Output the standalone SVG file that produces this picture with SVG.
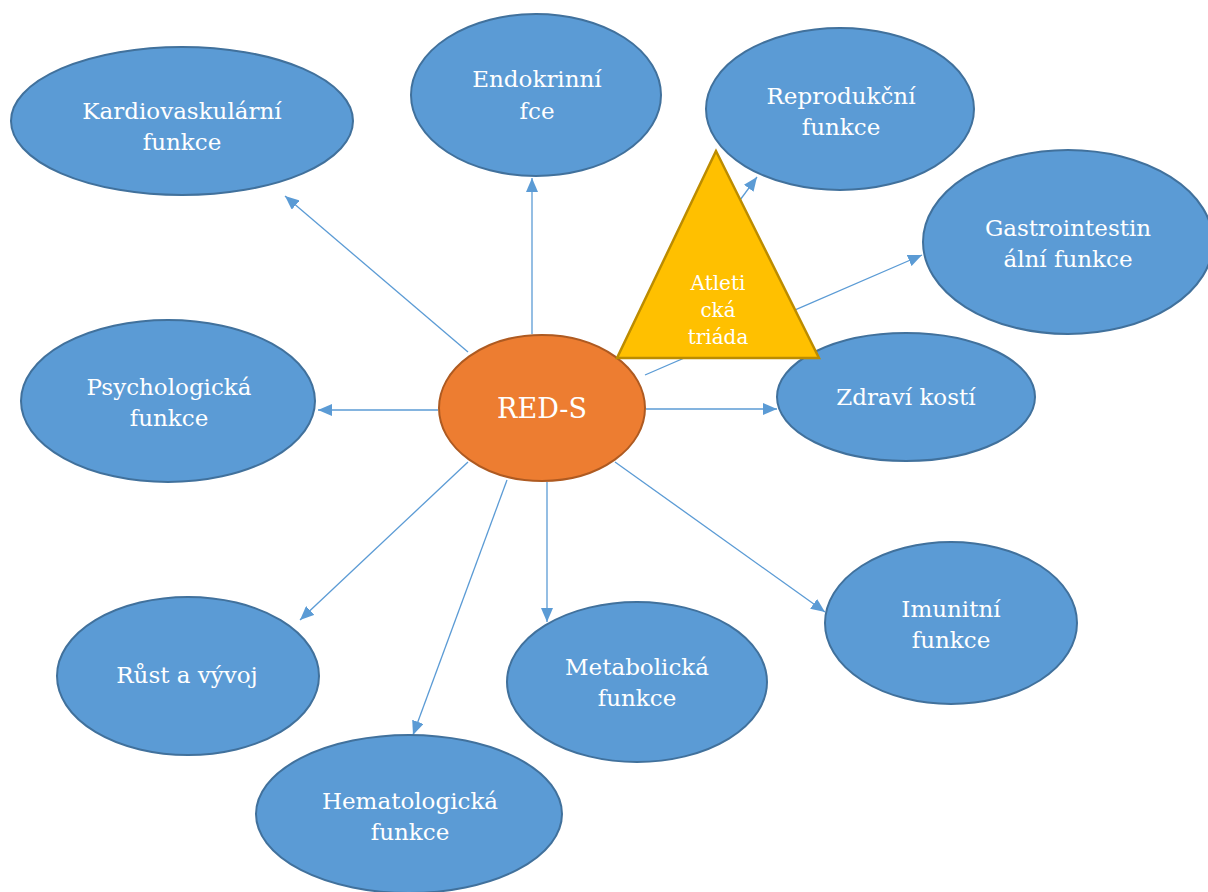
<svg xmlns="http://www.w3.org/2000/svg" width="1208" height="892" viewBox="0 0 1208 892">
<style>
.n{fill:#5B9BD5;stroke:#41719C;stroke-width:2}
.t{fill:#fff;font-family:"DejaVu Serif","Liberation Serif",serif;font-size:23px;text-anchor:middle}
.c{stroke:#5B9BD5;stroke-width:1.3;fill:none;marker-end:url(#ah)}
</style>
<defs>
<marker id="ah" viewBox="0 0 14 12" refX="14" refY="6" markerWidth="14" markerHeight="12" markerUnits="userSpaceOnUse" orient="auto">
<path d="M0,0L14,6L0,12z" fill="#5B9BD5"/>
</marker>
</defs>
<rect width="1208" height="892" fill="#fff"/>
<g id="connectors">
<line class="c" x1="468" y1="352" x2="285" y2="196"/>
<line class="c" x1="532" y1="334" x2="532" y2="178"/>
<line class="c" x1="690" y1="268" x2="757" y2="177"/>
<line class="c" x1="645" y1="375" x2="922" y2="255"/>
<line class="c" x1="438" y1="410" x2="318" y2="410"/>
<line class="c" x1="646" y1="409" x2="777" y2="409"/>
<line class="c" x1="468" y1="462" x2="300" y2="620"/>
<line class="c" x1="507" y1="480" x2="413" y2="735"/>
<line class="c" x1="547" y1="482" x2="547" y2="622"/>
<line class="c" x1="615" y1="462" x2="825" y2="612"/>
</g>
<g id="kardio"><ellipse class="n" cx="182" cy="121" rx="171" ry="74"/><text class="t" x="182" y="119">Kardiovaskulární</text><text class="t" x="182" y="150">funkce</text></g>
<g id="endokrinni"><ellipse class="n" cx="536" cy="95" rx="125" ry="81"/><text class="t" x="537" y="87">Endokrinní</text><text class="t" x="537" y="119">fce</text></g>
<g id="reprodukcni"><ellipse class="n" cx="840" cy="109" rx="134" ry="81"/><text class="t" x="841" y="104">Reprodukční</text><text class="t" x="841" y="135">funkce</text></g>
<g id="gastro"><ellipse class="n" cx="1068" cy="242" rx="145" ry="92"/><text class="t" x="1068" y="236">Gastrointestin</text><text class="t" x="1068" y="267">ální funkce</text></g>
<g id="psycho"><ellipse class="n" cx="168" cy="401" rx="147" ry="81"/><text class="t" x="169" y="395">Psychologická</text><text class="t" x="169" y="426">funkce</text></g>
<g id="zdravi"><ellipse class="n" cx="906" cy="397" rx="129" ry="64"/><text class="t" x="906" y="405">Zdraví kostí</text></g>
<g id="rust"><ellipse class="n" cx="188" cy="676" rx="131" ry="79"/><text class="t" x="187" y="683">Růst a vývoj</text></g>
<g id="metabolicka"><ellipse class="n" cx="637" cy="682" rx="130" ry="80"/><text class="t" x="637" y="675">Metabolická</text><text class="t" x="637" y="706">funkce</text></g>
<g id="imunitni"><ellipse class="n" cx="951" cy="623" rx="126" ry="81"/><text class="t" x="951" y="617">Imunitní</text><text class="t" x="951" y="648">funkce</text></g>
<g id="hemato"><ellipse class="n" cx="409" cy="814" rx="153" ry="79"/><text class="t" x="410" y="809">Hematologická</text><text class="t" x="410" y="840">funkce</text></g>
<g id="reds"><ellipse cx="542" cy="408" rx="103" ry="73" fill="#ED7D31" stroke="#AE5A21" stroke-width="2"/><text class="t" x="542" y="418" style="font-size:27px">RED-S</text></g>
<g id="triada"><polygon points="716,151 617,358 819,358" fill="#FFC000" stroke="#BC8C00" stroke-width="2.5"/><text class="t" x="718" y="290" style="font-size:20px">Atleti</text><text class="t" x="718" y="317" style="font-size:20px">cká</text><text class="t" x="718" y="344" style="font-size:20px">triáda</text></g>
</svg>
